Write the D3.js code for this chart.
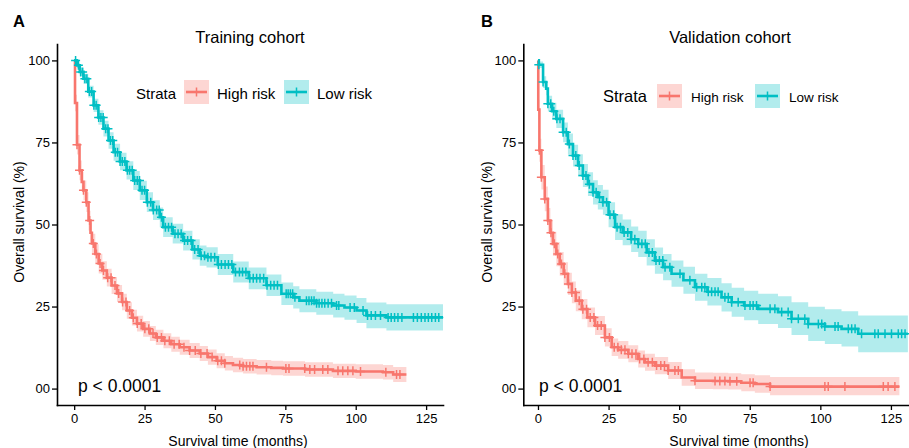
<!DOCTYPE html>
<html><head><meta charset="utf-8">
<script src="https://cdn.jsdelivr.net/npm/d3@7"></script>
<style>
body{margin:0;background:#fff}
svg{display:block}
text{font-family:"Liberation Sans",Arial,Helvetica,sans-serif;fill:#000}
</style>
</head><body>
<svg id="c" width="909" height="448"></svg>
<script>
// ---------------- DATA ----------------
const strata = ["High risk", "Low risk"];
const colors = ["#F8766D", "#00BFC4"];
const panelLetters = ["A", "B"];
const panelTitles = ["Training cohort", "Validation cohort"];
const pLabel = "p < 0.0001";
const xTitle = "Survival time (months)";
const yTitle = "Overall survival (%)";
const legendTitle = "Strata";
const xTicks = [0, 25, 50, 75, 100, 125];
const yTicks = [0, 25, 50, 75, 100];
const yTickLabels = ["00", "25", "50", "75", "100"];

// Training cohort - High risk
const trainHighTime  = [0,0.3,1.0,1.9,2.7,3.3,4.3,5.1,5.8,6.3,7.5,8.7,10,11.6,13.3,15.2,17,18.7,20.5,22.3,24.5,26.9,29,31.7,34.5,37.5,41,44.6,47.5,50.6,53.5,56.4,60,64.8,70,74.2,82,91.9,100,109.7,113.3,118];
const trainHighSurv  = [100,87,74.3,66.5,63,60.4,56.8,51.2,47.5,44.2,41,38.1,36,33.8,31.4,29,26.4,23.8,21.6,19.8,18.2,16.8,15.6,14.6,13.5,12.6,11.6,10.7,9.6,8.5,7.7,7.2,6.8,6.5,6.3,6.1,5.8,5.4,5.2,5.0,4.3,4.3];
const trainHighLower = [100,84.5,71.3,63.5,60,57.4,53.8,48.2,44.5,41.2,38,35.1,33.2,31.1,28.8,26.4,23.9,21.3,19.2,17.4,15.8,14.5,13.3,12.3,11.2,10.3,9.3,8.4,7.3,6.2,5.5,5.0,4.6,4.3,4.1,3.9,3.6,3.2,3.0,2.8,2.0,2.0];
const trainHighUpper = [100,89.5,77.3,69.5,66,63.4,59.8,54.2,50.5,47.2,44,41.1,38.8,36.5,34,31.6,28.9,26.3,24,22.2,20.6,19.1,17.9,16.9,15.8,14.9,13.9,13,11.9,10.8,9.9,9.4,9.0,8.7,8.5,8.3,8.0,7.6,7.4,7.2,6.6,6.6];
const trainHighCensor = [1.0,1.9,3.3,4.3,5.5,6.8,7.9,9.2,10.4,11.9,13.1,14.5,15.8,17.2,18.4,19.7,21.0,22.4,23.8,25.1,26.5,28.0,29.5,31.0,32.2,33.8,35.5,37.3,39.0,41.0,43.0,45.0,47.2,49.0,51.0,52.3,53.5,58.8,60.0,61.2,62.4,63.5,68.3,75.2,76.3,81.9,83.7,85.4,88.3,90.1,93.7,95.4,97.2,99.0,101.7,110.7,114.5,115.7];

// Training cohort - Low risk
const trainLowTime  = [0,1,2,3.3,5,6.9,8.6,10.4,12.2,14,16.3,18.6,21,23.3,25.8,28,30.4,31.6,35,38.7,42,44.6,47,51,56.5,62,68.3,73.6,77.8,80,86,92,96,100.3,103.8,110.9,131];
const trainLowSurv  = [100,98.5,96.5,94.4,90.5,86.3,82.6,79.2,75.6,72,69.2,66.5,63.4,60.4,56.8,54.4,52.2,49.2,47.2,45.1,42.4,40.5,40,37.8,35.5,33.6,31.5,28.9,27.8,26.8,26.0,25.3,24.7,23.8,22.3,21.7,21.7];
const trainLowLower = [100,97.7,95.3,92.9,88.7,84.3,80.4,76.8,73.1,69.4,66.5,63.7,60.5,57.5,53.8,51.4,49.2,46.2,44.2,42.1,39.3,37.4,36.9,34.6,32.3,30.3,28.2,25.5,24.4,23.3,22.5,21.7,21.0,20.0,18.4,17.7,17.7];
const trainLowUpper = [100,99.3,97.7,95.9,92.3,88.3,84.8,81.6,78.1,74.6,71.9,69.3,66.3,63.3,59.8,57.4,55.2,52.2,50.2,48.1,45.5,43.6,43.1,41,38.7,36.9,34.8,32.3,31.2,30.3,29.5,28.9,28.4,27.6,26.2,25.7,25.7];
const trainLowCensor = [0.5,1.5,2.3,3.0,3.8,4.5,5.4,6.2,7.0,7.8,8.7,9.5,10.3,11.2,12.0,12.9,13.7,14.6,15.4,16.3,17.1,18.0,18.9,19.7,20.6,21.5,22.4,23.2,24.1,25.0,26.0,27.2,28.1,29.3,30.2,31.0,32.4,33.5,34.6,35.8,36.9,38.0,39.2,40.3,41.5,42.8,44.0,45.1,46.3,47.5,48.6,49.9,51.2,52.3,53.6,54.8,56.0,57.3,58.7,59.8,61.0,62.4,63.6,64.8,66.0,67.3,68.5,69.8,71.0,72.2,75.3,76.0,76.8,77.6,78.4,82.5,83.4,84.3,85.2,86.1,87.0,88.0,89.0,90.2,91.4,93.2,94.0,98.0,99.5,102.6,104.2,105.5,107.0,108.8,111.5,112.6,113.8,115.0,116.4,120.5,121.9,123.3,124.6,125.8,127.0,128.3,129.5];

// Validation cohort - High risk
const validHighTime  = [0,0.1,0.5,1.2,2.4,3.5,4.4,5.3,6.5,7.7,9.1,10.6,12,13.4,15.5,17.5,20.2,23.7,26.1,28.4,32,35.5,37.9,41.4,46.1,50.9,55.6,62,67.4,72,76.8,82.2,128];
const validHighSurv  = [100,85,72.6,64.4,57.8,51.2,47.5,44.1,41,38,35,31.9,29.3,26.8,24.2,21.7,19.2,15.6,12.6,11.8,10.6,9.0,8.0,7.0,5.5,3.4,2.4,2.3,2.2,1.8,1.4,0.6,0.6];
const validHighLower = [100,82,69.1,60.7,54,47.4,43.7,40.4,37.3,34.4,31.5,28.5,26,23.6,21.1,18.7,16.3,12.8,9.9,9.1,8.0,6.4,5.4,4.4,2.9,0.9,-0.1,-0.2,-0.3,-0.8,-1.3,-2.0,-2.0];
const validHighUpper = [100,88,76.1,68.1,61.6,55,51.3,47.8,44.7,41.6,38.5,35.3,32.6,30,27.3,24.7,22.1,18.4,15.3,14.5,13.2,11.6,10.6,9.6,8.1,5.9,4.9,4.8,4.7,4.4,4.1,3.5,3.5];
const validHighCensor = [0.5,1.2,2.4,3.5,4.6,5.8,7.0,8.3,9.5,10.8,12.0,13.3,14.6,15.9,17.2,18.5,19.8,21.1,22.4,23.7,25.3,27.0,28.3,29.5,30.8,32.0,33.3,34.7,36.0,37.5,39.0,40.5,42.0,43.5,44.8,46.1,48.5,49.7,55.6,62.7,64.4,66.2,68.0,70.4,75.1,76.2,82.2,101.6,102.8,108.7,122.3,124.0,126.4];

// Validation cohort - Low risk
const validLowTime  = [0,0.3,1.8,2.9,3.5,5,6.5,8.9,10.6,12.4,14.2,15.9,17.7,19.5,21.2,23,25,27.3,30,33,35.5,38.5,41.4,44.3,47.3,51.5,55.6,60,65,68.6,73,78,85,89.8,95.7,101.6,107.5,113.4,131];
const validLowSurv  = [100,98.7,93.4,91.4,86.8,84.5,82.2,78.1,74.5,71,68,64.9,62.3,59.8,58.3,56.8,53,49.2,47.6,45.5,44.1,41.5,39,37,35,33,30.9,29.5,27.8,26.3,25.3,24.3,23.3,21.3,19.7,18.9,18.2,16.7,16.7];
const validLowLower = [100,97.7,91.6,89.4,84.4,81.9,79.4,75.1,71.3,67.7,64.6,61.4,58.7,56.1,54.6,53,49.2,45.3,43.7,41.6,40.1,37.5,35,33,31,28.9,26.8,25.3,23.5,21.9,20.8,19.7,18.5,16.3,14.5,13.6,12.8,11.1,11.1];
const validLowUpper = [100,99.7,95.2,93.4,89.2,87.1,85,81.1,77.7,74.3,71.4,68.4,65.9,63.5,62,60.6,56.8,53.1,51.5,49.4,48.1,45.5,43,41,39,37.1,35,33.7,32.1,30.7,29.8,28.9,28.1,26.3,24.9,24.2,23.6,22.3,22.3];
const validLowCensor = [0.3,1.8,3.5,4.5,5.6,6.7,7.8,8.9,10.0,11.1,12.4,13.4,14.6,15.9,17.0,18.2,19.5,20.6,21.8,23.0,24.3,25.5,26.8,28.0,29.2,30.5,31.8,33.0,34.3,35.5,36.8,38.0,39.3,40.5,41.8,43.0,44.2,45.0,46.7,50.3,53.8,56.2,58.0,59.1,60.3,61.5,62.7,63.8,66.2,67.4,68.6,70.9,73.3,75.1,76.2,77.4,82.2,83.9,86.3,88.6,89.8,92.2,94.5,95.7,99.3,100.5,101.6,105.2,106.3,109.9,111.1,112.3,114.6,119.3,120.5,122.9,125.2,127.6,128.8,130.0];

// ---------------- DRAW ----------------
const svg = d3.select("#c");

function mk(time, surv, lower, upper, censor) {
  return { pts: time.map((t, j) => ({ t, s: surv[j], lo: lower[j], up: upper[j] })), time, surv, censor };
}
function stepValue(series, t) {
  let v = series.surv[0];
  for (let j = 0; j < series.time.length; j++) { if (series.time[j] <= t) v = series.surv[j]; else break; }
  return v;
}

const panels = [
  { letter: panelLetters[0], title: panelTitles[0],
    xDomain: [-6.1, 131], xRange: [57, 443],
    letterX: 13, titleX: 250, xTitleX: 238, yTitleX: 19,
    legend: { strataX: 136, strataSize: 15, keyX: [184, 284], labX: [217, 317], labSize: 15, keyY: 80, baseY: 98.5 },
    pX: 78,
    series: [mk(trainHighTime, trainHighSurv, trainHighLower, trainHighUpper, trainHighCensor),
             mk(trainLowTime, trainLowSurv, trainLowLower, trainLowUpper, trainLowCensor)] },
  { letter: panelLetters[1], title: panelTitles[1],
    xDomain: [-5.2, 131.4], xRange: [523.3, 909],
    letterX: 481, titleX: 730, xTitleX: 739, yTitleX: 487,
    legend: { strataX: 603, strataSize: 16.5, keyX: [657, 755], labX: [691, 789], labSize: 13.5, keyY: 84, baseY: 102 },
    pX: 539,
    series: [mk(validHighTime, validHighSurv, validHighLower, validHighUpper, validHighCensor),
             mk(validLowTime, validLowSurv, validLowLower, validLowUpper, validLowCensor)] }
];

const LW = 2.6;
const plus = "M-4.5,0H4.5M0,-4.5V4.5";

panels.forEach(p => {
  const x = d3.scaleLinear().domain(p.xDomain).range(p.xRange);
  const y = d3.scaleLinear().domain([-5, 105]).range([405, 44]);
  const g = svg.append("g");

  // confidence bands
  p.series.forEach((s, i) => {
    g.append("path").datum(s.pts)
      .attr("d", d3.area().curve(d3.curveStepAfter).x(d => x(d.t)).y0(d => y(d.lo)).y1(d => y(d.up)))
      .attr("fill", colors[i]).attr("fill-opacity", 0.3).attr("stroke", "none");
  });
  // survival lines
  p.series.forEach((s, i) => {
    g.append("path").datum(s.pts)
      .attr("d", d3.line().curve(d3.curveStepAfter).x(d => x(d.t)).y(d => y(d.s)))
      .attr("fill", "none").attr("stroke", colors[i]).attr("stroke-width", LW);
  });
  // censor marks
  p.series.forEach((s, i) => {
    g.append("g").selectAll("path").data(s.censor).join("path")
      .attr("transform", t => `translate(${x(t)},${y(stepValue(s, t))})`)
      .attr("d", plus).attr("stroke", colors[i]).attr("stroke-width", 1.5).attr("fill", "none");
  });

  // axes
  const ya = g.append("g").attr("transform", `translate(${p.xRange[0]},0)`)
    .call(d3.axisLeft(y).tickValues(yTicks).tickFormat((d, k) => yTickLabels[k]).tickSize(5).tickSizeOuter(0).tickPadding(2));
  const xa = g.append("g").attr("transform", `translate(0,405)`)
    .call(d3.axisBottom(x).tickValues(xTicks).tickFormat(d3.format("d")).tickSize(5).tickSizeOuter(0).tickPadding(4));
  [ya, xa].forEach(a => {
    a.select(".domain").attr("stroke", "#000").attr("stroke-width", 1.6).attr("stroke-linecap", "square");
    a.selectAll(".tick line").attr("stroke", "#000").attr("stroke-width", 1.3);
    a.selectAll(".tick text").attr("font-size", 13).attr("fill", "#000")
      .attr("font-family", '"Liberation Sans",Arial,Helvetica,sans-serif');
  });

  // p-value
  g.append("text").attr("x", p.pX).attr("y", 392).attr("font-size", 17.5).text(pLabel);

  // titles
  g.append("text").attr("x", p.letterX).attr("y", 27).attr("font-size", 16.5).attr("font-weight", "bold").text(p.letter);
  g.append("text").attr("x", p.titleX).attr("y", 43).attr("text-anchor", "middle").attr("font-size", 16.5).text(p.title);
  g.append("text").attr("x", p.xTitleX).attr("y", 446).attr("text-anchor", "middle").attr("font-size", 14).text(xTitle);
  g.append("text").attr("transform", `translate(${p.yTitleX + 5},222) rotate(-90)`)
    .attr("text-anchor", "middle").attr("font-size", 14).text(yTitle);

  // legend
  const L = p.legend;
  g.append("text").attr("x", L.strataX).attr("y", L.baseY).attr("font-size", L.strataSize).text(legendTitle);
  strata.forEach((name, i) => {
    const kx = L.keyX[i], ky = L.keyY;
    g.append("rect").attr("x", kx).attr("y", ky).attr("width", 25).attr("height", 24)
      .attr("fill", colors[i]).attr("fill-opacity", 0.3);
    g.append("line").attr("x1", kx + 2).attr("x2", kx + 23).attr("y1", ky + 12).attr("y2", ky + 12)
      .attr("stroke", colors[i]).attr("stroke-width", LW);
    g.append("path").attr("transform", `translate(${kx + 12.5},${ky + 12})`).attr("d", plus)
      .attr("stroke", colors[i]).attr("stroke-width", 1.5);
    g.append("text").attr("x", L.labX[i]).attr("y", L.baseY).attr("font-size", L.labSize).text(name);
  });
});
</script>
</body></html>
